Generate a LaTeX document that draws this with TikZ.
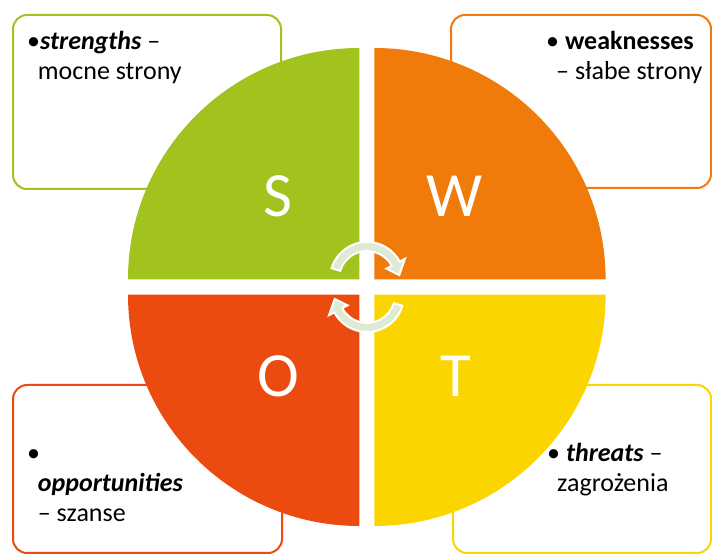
\documentclass[tikz,border=0pt]{standalone}
\usepackage{fontspec}
\setmainfont{Carlito}
\definecolor{cS}{RGB}{162,194,30}
\definecolor{cW}{RGB}{240,123,10}
\definecolor{cO}{RGB}{235,75,14}
\definecolor{cT}{RGB}{250,213,0}
\definecolor{arrfill}{RGB}{222,234,212}
\begin{document}
\begin{tikzpicture}[x=1pt,y=1pt,
  infobox/.style={line width=2pt, rounded corners=14pt, fill=white},
  boxtext/.style={font=\fontsize{26}{30}\selectfont, inner sep=0pt, anchor=base west, text=black},
  letter/.style={font=\fontsize{63}{63}\selectfont, text=white, inner sep=0pt, anchor=base},
  cyclearrow/.style={fill=arrfill, draw=white, line width=2pt, line join=miter}]
\useasboundingbox (0,0) rectangle (712,554);
\fill[white] (0,0) rectangle (712,554);
% boxes
\draw[infobox, draw=cS] (13,365) rectangle (281,539);
\draw[infobox, draw=cW] (451,366) rectangle (711,539);
\draw[infobox, draw=cO] (13,1) rectangle (282,169);
\draw[infobox, draw=cT] (453,1) rectangle (711,169);
% box texts
\node[boxtext] (s1) at (27,504.7) {•\textbf{\textit{strengths}} –};
\node[boxtext] (s2) at (37.7,474.7) {mocne strony};
\node[boxtext] (w1) at (546,504.7) {• \textbf{weaknesses}};
\node[boxtext] (w2) at (556,474.7) {– słabe strony};
\node[boxtext] (o1) at (27,92.3) {•};
\node[boxtext] (o2) at (37.7,62.3) {\textbf{\textit{opportunities}}};
\node[boxtext] (o3) at (37.7,32.3) {– szanse};
\node[boxtext] (t1) at (547,92.3) {• \textbf{\textit{threats}} –};
\node[boxtext] (t2) at (557,62.3) {zagrożenia};
% quadrants
\fill[cS] (359.3,274.7) -- ++(-231.3,0) arc[start angle=180, end angle=90, radius=231.3] -- cycle;
\fill[cW] (374.3,274.7) -- ++(0,231.3) arc[start angle=90, end angle=0, radius=231.3] -- cycle;
\fill[cO] (359.3,259.3) -- ++(-231.3,0) arc[start angle=180, end angle=270, radius=231.3] -- cycle;
\fill[cT] (374.3,259.3) -- ++(231.3,0) arc[start angle=0, end angle=-90, radius=231.3] -- cycle;
% letters
\node[letter] (S) at (278,337) {S};
\node[letter] (W) at (455,337) {W};
\node[letter] (O) at (278,157) {O};
\node[letter] (T) at (456,157) {T};
% cycle arrows
\begin{scope}[shift={(367,275)}]
\path[cyclearrow] (163:37) arc[start angle=163, end angle=28, radius=37]
  -- (28:43) -- (7:32.5) -- (28:22) -- (28:28)
  arc[start angle=28, end angle=163, radius=28] -- cycle;
\end{scope}
\begin{scope}[shift={(367,259)}, rotate=180]
\path[cyclearrow] (163:37) arc[start angle=163, end angle=28, radius=37]
  -- (28:43) -- (7:32.5) -- (28:22) -- (28:28)
  arc[start angle=28, end angle=163, radius=28] -- cycle;
\end{scope}
\end{tikzpicture}
\end{document}
